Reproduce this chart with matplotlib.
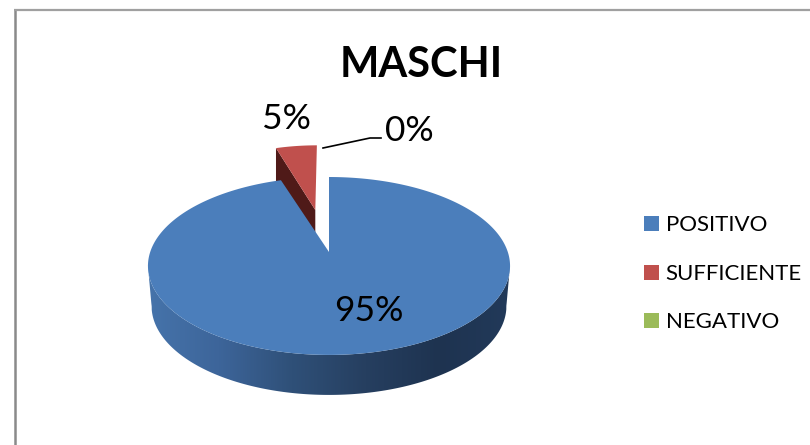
import numpy as np
import matplotlib
matplotlib.use("Agg")
import matplotlib.pyplot as plt
from matplotlib.patches import Polygon, Rectangle
from matplotlib.colors import LinearSegmentedColormap

title = "MASCHI"
categories = ["POSITIVO", "SUFFICIENTE", "NEGATIVO"]
values = [95, 5, 0]
colors = ["#4b7ebb", "#c0504d", "#9bbb59"]
side_dark = "#4f1a18"
font = "Lato"

W, H = 810, 445
fig = plt.figure(figsize=(W / 100, H / 100), dpi=100)
ax = fig.add_axes([0, 0, 1, 1])
ax.set_xlim(0, W)
ax.set_ylim(H, 0)
ax.axis("off")

# Chart frame
ax.plot([14.5, 14.5], [H, 10], color="#8a8a8a", lw=1.8, solid_capstyle="butt", zorder=1)
ax.plot([14, W], [10, 10], color="#a0a0a0", lw=1.6, solid_capstyle="butt", zorder=1)

# Perspective projection of the pie plane onto the picture
CX, R, C, A, B = 329.0, 178.8, 0.157, -47.2, 252.0


def project(u, v):
    d = 1 + C * v
    return CX + R * u / d, (A * v + B) / d


def wedge(start, end, off=(0.0, 0.0), n=240):
    t = np.radians(np.linspace(start, end, n))
    u = np.sin(t) + off[0]
    v = np.cos(t) + off[1]
    return project(u, v)


total = sum(values)
blue_start = 0.0
blue_end = 360.0 * values[0] / total
red_end = blue_end + 360.0 * values[1] / total

# Blue side wall with a left-to-right gradient
tx, ty = wedge(blue_start, blue_end, n=600)
keep = ty >= 262
bx, by = tx[keep], ty[keep]
k = np.argsort(bx)
bx, by = bx[k], by[k]
DEPTH, SHRINK = 40.0, 0.98
lx = CX + (bx - CX) * SHRINK
ly = by + DEPTH
wall = Polygon(np.column_stack([np.r_[bx, lx[::-1]], np.r_[by, ly[::-1]]]),
               closed=True, fc="none", ec="none", zorder=2)
ax.add_patch(wall)
cmap = LinearSegmentedColormap.from_list(
    "wall", ["#4674ab", "#3d659a", "#2f5078", "#263f60", "#1e3350", "#223a5a"])
grad = np.linspace(0, 1, 256).reshape(1, -1)
img = ax.imshow(grad, extent=[145, 513, 410, 240], cmap=cmap, aspect="auto", zorder=2)
img.set_clip_path(wall)
ax.set_xlim(0, W)
ax.set_ylim(H, 0)

# Exploded red slice: wall, then top face
EXPLODE, RED_NARROW = 0.53, 0.91
mid = np.radians((blue_end + red_end) / 2)
off = (EXPLODE * np.sin(mid), EXPLODE * np.cos(mid))
rx, ry = wedge(blue_end, red_end, off, n=30)
ax_, ay_ = project(*off)
rx = ax_ + (rx - ax_) * RED_NARROW
RED_DEPTH = 23.0
wall_pts = [(rx[0], ry[0]), (rx[0], ry[0] + 40), (ax_, ay_ + RED_DEPTH), (ax_, ay_)]
ax.add_patch(Polygon(wall_pts, closed=True, fc=side_dark, ec="none", zorder=3))
ax.add_patch(Polygon(np.column_stack([np.r_[ax_, rx], np.r_[ay_, ry]]), closed=True,
                     fc=colors[1], ec="none", zorder=5))

# Blue top face
ox, oy = project(0, 0)
ax.add_patch(Polygon(np.column_stack([np.r_[ox, tx], np.r_[oy, ty]]), closed=True,
                     fc=colors[0], ec="none", zorder=4))

# Title
ax.text(421.5, 77, title, family=font, fontweight="bold", fontsize=30,
        ha="center", va="baseline", color="black", zorder=6)

# Data labels
ax.text(368.5, 321, f"{values[0]}%", family=font, fontsize=25.5, ha="center", va="baseline", zorder=6)
ax.text(286.5, 129, f"{values[1]}%", family=font, fontsize=25.5, ha="center", va="baseline", zorder=6)
ax.text(409.5, 141, f"{values[2]}%", family=font, fontsize=25.5, ha="center", va="baseline", zorder=6)
ax.plot([323, 370, 381], [148, 138, 138], color="black", lw=1.2, zorder=6)

# Legend
for name, col, y in zip(categories, colors, [223.5, 272.5, 320.5]):
    ax.add_patch(Rectangle((644, y - 7.5), 15, 15, fc=col, ec="none", zorder=6))
    ax.text(665.5, y + 7.8, name, family=font, fontsize=16, ha="left", va="baseline",
            color="black", zorder=6)

fig.savefig("out.png", dpi=100)
